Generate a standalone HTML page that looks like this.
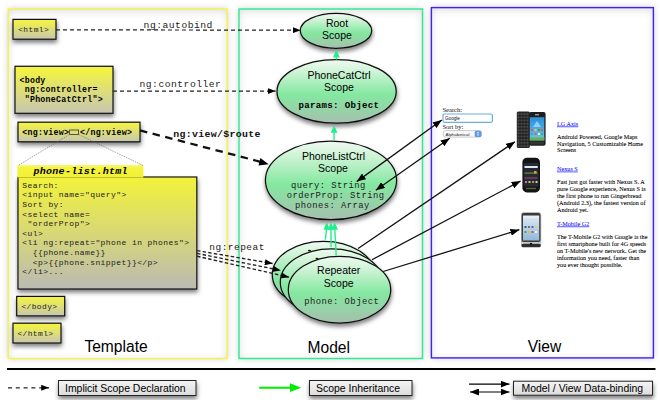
<!DOCTYPE html>
<html><head><meta charset="utf-8">
<style>
html,body{margin:0;padding:0;background:#fff;width:660px;height:405px;overflow:hidden}
svg{display:block}
text{white-space:pre}
.m{font-family:"Liberation Mono",monospace}
.s{font-family:"Liberation Sans",sans-serif}
.r{font-family:"Liberation Serif",serif}
</style></head><body>
<svg width="660" height="405" viewBox="0 0 660 405">
<defs>
  <linearGradient id="yb" x1="0" y1="0" x2="0" y2="1">
    <stop offset="0" stop-color="#f6f63c"/>
    <stop offset="1" stop-color="#c6c6b2"/>
  </linearGradient>
  <linearGradient id="yb2" x1="0" y1="0" x2="0" y2="1">
    <stop offset="0" stop-color="#f2f23a"/>
    <stop offset="0.5" stop-color="#d8d876"/>
    <stop offset="1" stop-color="#babab4"/>
  </linearGradient>
  <linearGradient id="tabg" x1="0" y1="0" x2="0" y2="1">
    <stop offset="0" stop-color="#f8f87a"/>
    <stop offset="0.25" stop-color="#f4f43c"/>
    <stop offset="1" stop-color="#f0f038"/>
  </linearGradient>
  <linearGradient id="eg" x1="0" y1="0" x2="0" y2="1">
    <stop offset="0" stop-color="#f0fbf1"/>
    <stop offset="0.2" stop-color="#cdf3d5"/>
    <stop offset="0.55" stop-color="#84e8a0"/>
    <stop offset="1" stop-color="#a6bfae"/>
  </linearGradient>
  <linearGradient id="scr" x1="0" y1="0" x2="0" y2="1">
    <stop offset="0" stop-color="#2a8ed8"/>
    <stop offset="1" stop-color="#6cc6f2"/>
  </linearGradient>
  <linearGradient id="scr2" x1="0" y1="0" x2="0" y2="1">
    <stop offset="0" stop-color="#e0eaf4"/>
    <stop offset="1" stop-color="#90b8dc"/>
  </linearGradient>
  <pattern id="kbd" x="517" y="112.5" width="3" height="3.2" patternUnits="userSpaceOnUse">
    <rect width="3" height="3.2" fill="#242424"/>
    <rect x="0.6" y="0.7" width="1.8" height="1.8" fill="#4e4e4e"/>
  </pattern>
  <linearGradient id="lg" x1="0" y1="0" x2="0" y2="1">
    <stop offset="0" stop-color="#f4f4f4"/>
    <stop offset="1" stop-color="#dcdcdc"/>
  </linearGradient>
  <filter id="sh" x="-20%" y="-20%" width="140%" height="150%">
    <feDropShadow dx="0.5" dy="3" stdDeviation="2.3" flood-color="#000" flood-opacity="0.5"/>
  </filter>
  <filter id="psh" x="-5%" y="-5%" width="110%" height="110%">
    <feDropShadow dx="0" dy="1" stdDeviation="2" flood-color="#000" flood-opacity="0.18"/>
  </filter>
  <filter id="osh" x="-10%" y="-10%" width="120%" height="120%">
    <feGaussianBlur stdDeviation="3"/>
    <feComponentTransfer><feFuncA type="linear" slope="1"/></feComponentTransfer>
  </filter>
  <filter id="ins" x="-5%" y="-5%" width="110%" height="110%">
    <feComponentTransfer in="SourceAlpha" result="inv"><feFuncA type="table" tableValues="1 0"/></feComponentTransfer>
    <feGaussianBlur in="inv" stdDeviation="4" result="blur"/>
    <feOffset in="blur" dx="0" dy="1.5" result="ob"/>
    <feFlood flood-color="#000" flood-opacity="0.3"/>
    <feComposite in2="ob" operator="in"/>
    <feComposite in2="SourceAlpha" operator="in" result="shadow"/>
    <feMerge><feMergeNode in="SourceGraphic"/><feMergeNode in="shadow"/></feMerge>
  </filter>
  <marker id="ah" viewBox="0 0 10 10" refX="10" refY="5" markerWidth="9" markerHeight="7" markerUnits="userSpaceOnUse" preserveAspectRatio="none" orient="auto-start-reverse">
    <path d="M0,0 L10,5 L0,10 z" fill="#000"/>
  </marker>
  <marker id="ahd" viewBox="0 0 10 10" refX="10" refY="5" markerWidth="7.8" markerHeight="6" markerUnits="userSpaceOnUse" preserveAspectRatio="none" orient="auto-start-reverse">
    <path d="M0,0 L10,5 L0,10 z" fill="#000"/>
  </marker>
</defs>

<!-- panels -->
<g filter="url(#osh)" fill="#c8c8cc">
  <rect x="8.3" y="9" width="218.9" height="349.5"/>
  <rect x="239" y="9" width="183.5" height="349.5"/>
  <rect x="431.4" y="7.6" width="222" height="350.3"/>
</g>
<g filter="url(#ins)" fill="#fff">
  <rect x="8.3" y="9" width="218.9" height="349.5"/>
  <rect x="239" y="9" width="183.5" height="349.5"/>
  <rect x="431.4" y="7.6" width="222" height="350.3"/>
</g>
<g fill="none">
  <rect x="8.3" y="9" width="218.9" height="349.5" stroke="#f6f63a" stroke-width="1.3"/>
  <rect x="239" y="9" width="183.5" height="349.5" stroke="#28ee90" stroke-width="1.4"/>
  <rect x="431.4" y="7.6" width="222" height="350.3" stroke="#4020f8" stroke-width="1.4"/>
</g>

<!-- legend -->
<line x1="7" y1="369.1" x2="655.5" y2="369.1" stroke="#000" stroke-width="2"/>
<line x1="8" y1="387.8" x2="49" y2="387.8" stroke="#222" stroke-width="1.3" stroke-dasharray="4,3.8" marker-end="url(#ahd)"/>
<g filter="url(#sh)">
<rect x="58.5" y="380.5" width="137.5" height="15" fill="url(#lg)" stroke="#222" stroke-width="1"/>
<rect x="309.5" y="380.5" width="102.5" height="15" fill="url(#lg)" stroke="#222" stroke-width="1"/>
<rect x="513.5" y="381.2" width="139" height="14" fill="url(#lg)" stroke="#222" stroke-width="1"/>
</g>
<text class="s" x="65" y="391.8" font-size="10.45" fill="#000">Implicit Scope Declaration</text>
<text class="s" x="316" y="391.5" font-size="10.45" fill="#000">Scope Inheritance</text>
<text class="s" x="521.5" y="391.8" font-size="10.45" fill="#000">Model / View Data-binding</text>
<line x1="259.2" y1="387.7" x2="292" y2="387.7" stroke="#00ee00" stroke-width="1.9"/>
<path d="M290,383.3 L301.2,387.7 L290,392.1 z" fill="#00ee00"/>
<line x1="469" y1="384.1" x2="509.5" y2="384.1" stroke="#000" stroke-width="1.2" marker-end="url(#ah)"/>
<line x1="470" y1="392" x2="509.5" y2="392" stroke="#000" stroke-width="1.2" marker-end="url(#ah)" marker-start="url(#ah)"/>


<!-- panel labels -->
<text class="s" x="84.4" y="351.5" font-size="15.6">Template</text>
<text class="s" x="307.5" y="352.7" font-size="15.6">Model</text>
<text class="s" x="527.7" y="352.2" font-size="15.6">View</text>

<!-- template boxes -->
<g filter="url(#sh)">
  <rect x="13" y="19.4" width="43" height="19.8" fill="url(#yb)" stroke="#111" stroke-width="1.2"/>
  <rect x="15" y="66.3" width="98" height="47" fill="url(#yb)" stroke="#111" stroke-width="1.2"/>
  <rect x="18" y="122.2" width="122" height="19.6" fill="url(#yb)" stroke="#111" stroke-width="1.2"/>
  <rect x="18" y="177" width="178.8" height="112" fill="url(#yb2)" stroke="#0a0a0a" stroke-width="1.1"/>
  <rect x="16.7" y="296.4" width="48" height="19.5" fill="url(#yb)" stroke="#111" stroke-width="1.2"/>
  <rect x="13" y="323.2" width="48" height="19.8" fill="url(#yb)" stroke="#111" stroke-width="1.2"/>
</g>
<rect x="17.4" y="165" width="126" height="12.6" fill="url(#tabg)"/>
<text class="m" font-size="7.91" letter-spacing="0.414" fill="#222" x="18.2" y="32.2">&lt;html&gt;</text>
<text class="m" font-weight="bold" font-size="8.26" letter-spacing="0.264"><tspan x="19.5" y="82.9">&lt;body</tspan><tspan x="19.5" y="92.4"> ng:controller=</tspan><tspan x="19.5" y="102"> "PhoneCatCtrl"&gt;</tspan></text>
<text class="m" font-weight="bold" font-size="8.26" letter-spacing="0.264" x="22.3" y="134.6">&lt;ng:view&gt;</text>
<rect x="69.6" y="130" width="9" height="4.5" fill="none" stroke="#333" stroke-width="0.8"/>
<text class="m" font-weight="bold" font-size="8.26" letter-spacing="0.264" x="80" y="134.6">&lt;/ng:view&gt;</text>
<line x1="69.4" y1="134.5" x2="18" y2="165.5" stroke="#666" stroke-width="0.6" stroke-dasharray="1.5,1"/>
<line x1="78.6" y1="134.5" x2="143" y2="165.5" stroke="#666" stroke-width="0.6" stroke-dasharray="1.5,1"/>
<text class="m" font-weight="bold" font-style="italic" font-size="9.97" letter-spacing="0.318" x="33.4" y="174.4">phone-list.html</text>
<text class="m" font-size="8.0" letter-spacing="0.42" fill="#222">
<tspan x="22.3" y="187.8">Search:</tspan>
<tspan x="22.3" y="197.4">&lt;input name="query"&gt;</tspan>
<tspan x="22.3" y="207.0">Sort by:</tspan>
<tspan x="22.3" y="216.6">&lt;select name=</tspan>
<tspan x="22.3" y="226.2"> "orderProp"&gt;</tspan>
<tspan x="22.3" y="235.8">&lt;ul&gt;</tspan>
<tspan x="22.3" y="245.4">&lt;li ng:repeat="phone in phones"&gt;</tspan>
<tspan x="22.3" y="255.0">  {{phone.name}}</tspan>
<tspan x="22.3" y="264.6">  &lt;p&gt;{{phone.snippet}}&lt;/p&gt;</tspan>
<tspan x="22.3" y="274.2">&lt;/li&gt;...</tspan>
</text>
<text class="m" font-size="7.91" letter-spacing="0.414" fill="#222" x="21.4" y="308.5">&lt;/body&gt;</text>
<text class="m" font-size="7.91" letter-spacing="0.414" fill="#222" x="17.4" y="335.6">&lt;/html&gt;</text>

<!-- ellipses -->
<g filter="url(#sh)">
<ellipse cx="336" cy="30.8" rx="35.7" ry="17.5" fill="url(#eg)" stroke="#111" stroke-width="1.25"/>
<ellipse cx="336.6" cy="91.4" rx="59.6" ry="31.8" fill="url(#eg)" stroke="#111" stroke-width="1.25"/>
<ellipse cx="331" cy="180.3" rx="65.6" ry="39.3" fill="url(#eg)" stroke="#111" stroke-width="1.25"/>
<ellipse cx="323.5" cy="274.7" rx="51.2" ry="33.4" fill="url(#eg)" stroke="#111" stroke-width="1.25"/>
<ellipse cx="331.5" cy="282.2" rx="51.2" ry="33.4" fill="url(#eg)" stroke="#111" stroke-width="1.25"/>
<ellipse cx="339.5" cy="289.7" rx="51.2" ry="33.4" fill="url(#eg)" stroke="#111" stroke-width="1.25"/>
</g>
<text class="s" font-size="10.5" text-anchor="middle"><tspan x="337" y="27.2">Root</tspan><tspan x="337" y="39.2">Scope</tspan></text>
<text class="s" font-size="10.5" text-anchor="middle"><tspan x="339" y="78.6">PhoneCatCtrl</tspan><tspan x="339" y="91">Scope</tspan></text>
<text class="m" font-weight="bold" font-size="9.12" letter-spacing="0.288" x="298.6" y="107.7">params: Object</text>
<text class="s" font-size="10.5" text-anchor="middle"><tspan x="333.5" y="160">PhoneListCtrl</tspan><tspan x="333" y="172.4">Scope</tspan></text>
<text class="m" font-size="8.83" letter-spacing="0.462" fill="#222"><tspan x="291" y="188">query: String</tspan><tspan x="286.7" y="197.8">orderProp: String</tspan><tspan x="295" y="208.3">phones: Array</tspan></text>
<text class="s" font-size="10.5" text-anchor="middle"><tspan x="338.7" y="274.2">Repeater</tspan><tspan x="338.7" y="286.8">Scope</tspan></text>
<text class="m" font-size="8.83" letter-spacing="0.462" fill="#222" x="304.3" y="303.6">phone: Object</text>

<!-- dashed connectors -->
<line x1="56" y1="29.8" x2="300.5" y2="30.2" stroke="#222" stroke-width="1.2" stroke-dasharray="4,3" marker-end="url(#ahd)"/>
<text class="m" font-size="9.66" letter-spacing="0.504" x="143.6" y="27.5" fill="#222">ng:autobind</text>
<line x1="113" y1="91.1" x2="275.6" y2="91.1" stroke="#222" stroke-width="1.2" stroke-dasharray="4,3" marker-end="url(#ahd)"/>
<text class="m" font-size="9.66" letter-spacing="0.504" x="139.5" y="87.3" fill="#222">ng:controller</text>
<line x1="140" y1="130.4" x2="261" y2="161.9" stroke="#111" stroke-width="2.3" stroke-dasharray="7.5,5.5"/>
<path d="M268.6,164.2 L258.5,165.6 L260.4,158 z" fill="#000"/>
<text class="m" font-weight="bold" font-size="9.88" letter-spacing="0.312" x="173.3" y="137.2" fill="#111">ng:view/$route</text>
<text class="m" font-size="9.48" letter-spacing="0.492" x="209.3" y="250" fill="#222">ng:repeat</text>
<line x1="197" y1="250.6" x2="272.6" y2="263.5" stroke="#222" stroke-width="1.35" stroke-dasharray="3.5,2.2" marker-end="url(#ahd)"/>
<line x1="197" y1="253.4" x2="280.8" y2="270.4" stroke="#222" stroke-width="1.35" stroke-dasharray="3.5,2.2" marker-end="url(#ahd)"/>
<line x1="197" y1="256.2" x2="289" y2="277.2" stroke="#222" stroke-width="1.35" stroke-dasharray="3.5,2.2" marker-end="url(#ahd)"/>

<!-- green inheritance arrows -->
<ellipse cx="309.4" cy="250.6" rx="1.6" ry="0.8" fill="#111"/><ellipse cx="317" cy="258.6" rx="1.6" ry="0.8" fill="#111"/>
<g stroke="#22ee8c" stroke-width="1.4" fill="#22ee8c">
<line x1="336.4" y1="59.6" x2="336.4" y2="56"/><path d="M336.4,49.6 L339.8,57.4 L333,57.4 z" stroke="none"/>
<line x1="334.1" y1="140.6" x2="334.1" y2="132"/><path d="M334.1,125.4 L337.6,132.8 L330.6,132.8 z" stroke="none"/>
<line x1="325.4" y1="239.6" x2="326.5" y2="229"/><path d="M326.7,222.3 L330,229.7 L323.4,229.7 z" stroke="none"/>
<line x1="331" y1="247" x2="331" y2="229"/><path d="M331,222.3 L334.3,229.7 L327.7,229.7 z" stroke="none"/>
<line x1="336.2" y1="255.7" x2="334.8" y2="229"/><path d="M334.7,222.3 L338,229.7 L331.4,229.7 z" stroke="none"/>
</g>

<!-- view contents -->
<text class="r" font-size="6.6" x="442.4" y="111.7" fill="#111">Search:</text>
<rect x="443" y="114" width="49.4" height="8.3" rx="1.5" fill="#fff" stroke="#6aaee8" stroke-width="1.2"/>
<text class="s" font-size="4.6" x="445" y="120" fill="#111">Google</text>
<text class="r" font-size="6.6" x="442.4" y="128.6" fill="#111">Sort by:</text>
<rect x="443.3" y="130.6" width="38.2" height="6.5" rx="2" fill="#fafafa" stroke="#aaa" stroke-width="0.6"/>
<rect x="474.7" y="130.8" width="6.6" height="6.1" rx="1.5" fill="#5a9ae8"/><path d="M476.6,133.3 L478,131.9 L479.4,133.3 z M476.6,134.4 L478,135.8 L479.4,134.4 z" fill="#fff"/>
<text class="s" font-size="4.4" x="445.5" y="135.6" fill="#222">Alphabetical</text>

<g class="r" font-size="6.2" fill="#000" stroke="#000" stroke-width="0.07">
<text x="557" y="125.5" fill="#1818f8" stroke="#1818f8" text-decoration="underline">LG Axis</text>
<text><tspan x="557" y="138.7">Android Powered, Google Maps</tspan><tspan x="557" y="145.5">Navigation, 5 Customizable Home</tspan><tspan x="557" y="152.3">Screens</tspan></text>
<text x="557" y="170.6" fill="#1818f8" stroke="#1818f8" text-decoration="underline">Nexus S</text>
<text><tspan x="557" y="183.5">Fast just got faster with Nexus S. A</tspan><tspan x="557" y="190.5">pure Google experience, Nexus S is</tspan><tspan x="557" y="197.5">the first phone to run Gingerbread</tspan><tspan x="557" y="204.5">(Android 2.3), the fastest version of</tspan><tspan x="557" y="211.5">Android yet.</tspan></text>
<text x="557" y="225.5" fill="#1818f8" stroke="#1818f8" text-decoration="underline">T-Mobile G2</text>
<text><tspan x="557" y="238.8">The T-Mobile G2 with Google is the</tspan><tspan x="557" y="245.8">first smartphone built for 4G speeds</tspan><tspan x="557" y="252.8">on T-Mobile's new network. Get the</tspan><tspan x="557" y="259.8">information you need, faster than</tspan><tspan x="557" y="266.8">you ever thought possible.</tspan></text>
</g>

<!-- phones -->
<g>
  <rect x="516.8" y="111.4" width="13" height="36.5" rx="1.5" fill="#262626"/>
  <rect x="517" y="112.5" width="12.5" height="34.5" fill="url(#kbd)"/>
  <rect x="529" y="112" width="16.6" height="33.8" rx="2" fill="#1e1e1e"/>
  <rect x="529.8" y="117.2" width="14.5" height="23.2" fill="url(#scr)"/>
  <path d="M537,121 L541,127 L533,127 z" fill="#8fd0f4"/>
  <rect x="529.8" y="137.4" width="14.5" height="3" fill="#66b24e"/>
  <rect x="535" y="114" width="4" height="1.4" fill="#999"/>
  <g><rect x="531" y="129" width="2" height="2" fill="#e05a3a"/><rect x="534.5" y="129" width="2" height="2" fill="#f0d040"/><rect x="538" y="129" width="2" height="2" fill="#40a040"/><rect x="541" y="129" width="2" height="2" fill="#e05a3a"/>
  <rect x="531" y="133" width="2" height="2" fill="#40a0e0"/><rect x="534.5" y="133" width="2" height="2" fill="#e06060"/><rect x="538" y="133" width="2" height="2" fill="#eee"/><rect x="541" y="133" width="2" height="2" fill="#50b050"/></g>
  <rect x="530" y="141.5" width="14" height="3" fill="#333"/>
</g>
<g>
  <rect x="522.4" y="157.8" width="17.6" height="34.6" rx="4.5" fill="#141414"/>
  <rect x="523.8" y="163" width="14.8" height="23.5" fill="#262a36"/>
  <rect x="524.5" y="166" width="13.2" height="2" fill="#e0e6f0"/>
  <rect x="524.5" y="172.5" width="13" height="1.2" fill="#7a8a30"/>
  <rect x="534" y="171" width="2.5" height="2.5" fill="#e0a020"/>
  <rect x="524.5" y="177.5" width="13" height="1" fill="#a04870"/>
  <g><rect x="525" y="181" width="2" height="2" fill="#e07070"/><rect x="528.5" y="181" width="2" height="2" fill="#c0d040"/><rect x="532" y="181" width="2" height="2" fill="#e07070"/><rect x="535.5" y="181" width="2" height="2" fill="#d0e060"/></g>
  <rect x="526" y="187.8" width="10" height="1.4" fill="#4a6a3a"/>
</g>
<g>
  <rect x="521" y="212.3" width="20.2" height="34.8" rx="3" fill="#a8a8a8"/>
  <rect x="521.8" y="213" width="18.6" height="29" rx="2" fill="#3a3a3a"/>
  <rect x="523" y="215.5" width="16.2" height="25" fill="url(#scr2)"/>
  <rect x="523.3" y="216" width="15.6" height="2" fill="#e8eef4"/>
  <rect x="521.3" y="242.3" width="19.6" height="1.6" fill="#d8d8d8"/>
  <rect x="521.5" y="243.8" width="19.2" height="3.4" rx="1.5" fill="#2e2e2e"/>
  <circle cx="531" cy="244" r="1.2" fill="#111"/>
  <g><rect x="524.5" y="226" width="2" height="2" fill="#405a80"/><rect x="528" y="226" width="2" height="2" fill="#807060"/><rect x="531.5" y="226" width="2" height="2" fill="#3070c0"/><rect x="535" y="226" width="2" height="2" fill="#e0d060"/>
  <rect x="524.5" y="231" width="2" height="2" fill="#50a060"/><rect x="528" y="231" width="2" height="2" fill="#e0c040"/><rect x="531.5" y="231" width="2" height="2" fill="#d05050"/><rect x="535" y="231" width="2" height="2" fill="#eee"/></g>
</g>

<!-- data-binding arrows -->
<g stroke="#111" stroke-width="1.3">
<line x1="441.8" y1="120" x2="356.7" y2="181.6" marker-end="url(#ah)" marker-start="url(#ah)"/>
<line x1="449.7" y1="138.2" x2="375.8" y2="190.2" marker-end="url(#ah)" marker-start="url(#ah)"/>
<line x1="358.1" y1="248.5" x2="515" y2="141.7" marker-end="url(#ah)"/>
<line x1="372" y1="259.7" x2="520.6" y2="181" marker-end="url(#ah)"/>
<line x1="383.2" y1="271.5" x2="519.4" y2="229.7" marker-end="url(#ah)"/>
</g>
</svg>
</body></html>
